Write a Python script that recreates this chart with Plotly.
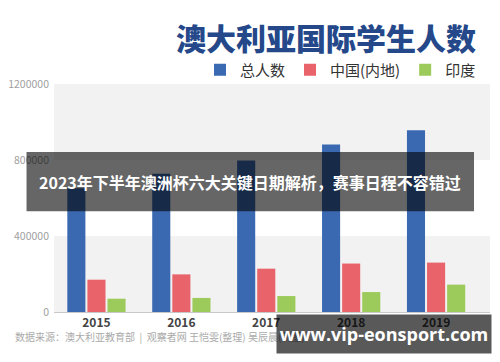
import plotly.graph_objects as go

years = ["2015", "2016", "2017", "2018", "2019"]
total = [651000, 728000, 798000, 881000, 956000]
china = [170000, 198000, 228000, 255000, 260000]
india = [70000, 74000, 84000, 105000, 144000]
series_names = ["总人数", "中国(内地)", "印度"]
y_ticks = [0, 400000, 800000, 1200000]

# page offset of the figure (browser body margin)
OFF = 8
W, H = 500 - OFF, 362 - OFF
L, R, T, B = 53.5 - OFF, 490 - OFF, 84 - OFF, 311.7 - OFF


def px(x):
    """reference page x (pixels) -> paper fraction"""
    return (x - OFF - L) / (R - L)


def py(y):
    return (B - (y - OFF)) / (B - T)


CJK = "Noto Sans CJK SC, Noto Sans, sans-serif"

fig = go.Figure()
for name, vals, col in zip(series_names, [total, china, india],
                           ["#3a69b1", "#e9636a", "#9ccb5b"]):
    fig.add_trace(go.Bar(x=years, y=vals, name=name, marker_color=col,
                         marker_line_width=0))

# alternating bands
for y0, y1 in [(0, 400000), (800000, 1200000)]:
    fig.add_shape(type="rect", xref="paper", yref="y", x0=0, x1=1, y0=y0, y1=y1,
                  fillcolor="#f2f2f2", line_width=0, layer="below")

# banner overlay box
fig.add_shape(type="rect", xref="paper", yref="paper", x0=px(26), x1=px(474),
              y0=py(211), y1=py(152), fillcolor="rgba(0,0,0,0.6)", line_width=0,
              layer="above")

fig.update_layout(
    width=W, height=H,
    margin=dict(l=L, r=W - R, t=T, b=H - B, autoexpand=False),
    paper_bgcolor="white", plot_bgcolor="white",
    barmode="group", bargap=0.29, bargroupgap=0.1,
    font=dict(family=CJK),
    title=dict(text="澳大利亚国际学生人数", x=(476 - OFF) / W, xanchor="right",
               y=1 - (39 - OFF) / H, yanchor="middle",
               font=dict(size=30, color="#24488a", family=CJK, weight=900)),
    legend=dict(orientation="h", xref="container", yref="container",
                x=(200 - OFF) / W, xanchor="left", y=1 - (70 - OFF) / H,
                yanchor="middle", font=dict(size=15, color="#333"),
                bgcolor="rgba(0,0,0,0)"),
    xaxis=dict(range=[-0.5, 4.635], showline=True, linecolor="#c8c8c8",
               linewidth=1, ticks="", showgrid=False, automargin=False,
               tickfont=dict(size=12, color="#444", weight="bold")),
    yaxis=dict(range=[0, 1200000], tickvals=y_ticks, ticktext=[str(v) for v in y_ticks],
               showgrid=False, zeroline=False, automargin=False,
               ticklabelstandoff=4,
               tickfont=dict(size=10.5, color="#a0a0a0")),
)

fig.add_annotation(xref="paper", yref="paper", x=px(12), y=py(336), xanchor="left",
                   yanchor="middle", showarrow=False,
                   text="数据来源：澳大利亚教育部  |  观察者网 王恺雯(整理) 吴辰晨(制图)",
                   font=dict(size=10, color="#aaaaaa"))

fig.add_annotation(xref="paper", yref="paper", x=px(250), y=py(182), xanchor="center",
                   yanchor="middle", showarrow=False,
                   text="2023年下半年澳洲杯六大关键日期解析，赛事日程不容错过",
                   font=dict(size=16, color="white", weight="bold"))

fig.add_annotation(xref="paper", yref="paper", x=px(384), y=py(334), xanchor="center",
                   yanchor="middle", showarrow=False, width=214, height=38, borderpad=0,
                   bgcolor="rgba(0,0,0,0.65)",
                   text="www.vip-eonsport.com",
                   font=dict(size=18, color="white", weight="bold", family="Open Sans, sans-serif"))

fig.write_html("out.html")
